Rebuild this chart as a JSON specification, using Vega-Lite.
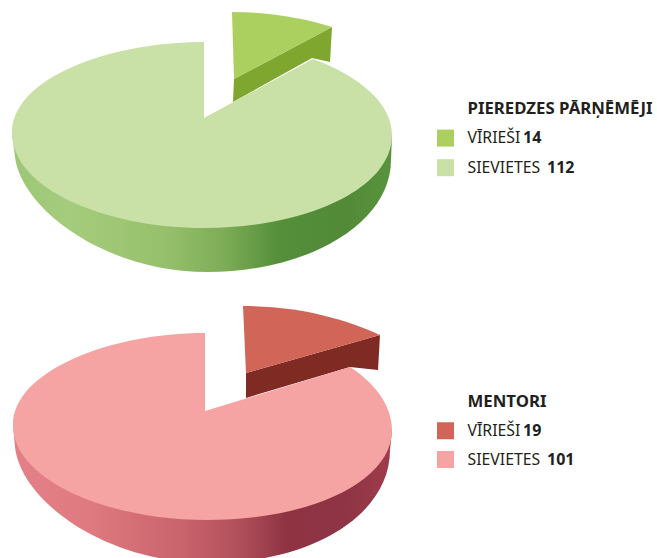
{
"$schema":"https://vega.github.io/schema/vega-lite/v6.json",
"width":657,"height":558,"padding":0,"autosize":{"type":"none"},
"background":"white",
"view":{"stroke":null},
"config":{"view":{"stroke":null}},
"data":{"values":[
{"group":"PIEREDZES PĀRŅĒMĒJI","gender":"VĪRIEŠI","count":14},
{"group":"PIEREDZES PĀRŅĒMĒJI","gender":"SIEVIETES","count":112},
{"group":"MENTORI","gender":"VĪRIEŠI","count":19},
{"group":"MENTORI","gender":"SIEVIETES","count":101}
]},
"resolve":{"scale":{"x":"independent","y":"independent","color":"independent"}},
"layer":[
{"transform":[{"filter":"datum.group==='PIEREDZES PĀRŅĒMĒJI' && datum.gender==='VĪRIEŠI'"}],
 "mark":{"type":"point","filled":true,"opacity":1,"size":4,"fill":"#7fa62f","shape":"M30,-39 L29,-16 L108,-60 L126,-56 L128,-91 Z"},
 "encoding":{"x":{"field":"group","type":"nominal","axis":null,"scale":{"type":"point","range":[204,204]}},"y":{"field":"group","type":"nominal","axis":null,"scale":{"type":"point","range":[118,118]}}}},
{"transform":[{"filter":"datum.group==='PIEREDZES PĀRŅĒMĒJI' && datum.gender==='VĪRIEŠI'"}],
 "mark":{"type":"point","filled":true,"opacity":1,"size":4,"fill":"#acd05f","shape":"M28,-106 C65,-106 100,-100 128,-91 L30,-39 Z"},
 "encoding":{"x":{"field":"group","type":"nominal","axis":null,"scale":{"type":"point","range":[204,204]}},"y":{"field":"group","type":"nominal","axis":null,"scale":{"type":"point","range":[118,118]}}}},
{"transform":[{"filter":"datum.group==='PIEREDZES PĀRŅĒMĒJI' && datum.gender==='SIEVIETES'"}],
 "mark":{"type":"point","filled":true,"opacity":1,"size":4,"fill":{"gradient":"linear","x1":0,"y1":0,"x2":1,"y2":0,"stops":[{"offset":0,"color":"#9cc676"},{"offset":0.15,"color":"#a5cc7c"},{"offset":0.4,"color":"#97c06c"},{"offset":0.55,"color":"#7fae58"},{"offset":0.7,"color":"#558f3a"},{"offset":0.88,"color":"#528a38"},{"offset":1,"color":"#5a933c"}]},"shape":"M-192,15 L-189,39 C-183,90 -100,154 3,154 C105,154 187,105 187,42 L188,17 Z"},
 "encoding":{"x":{"field":"group","type":"nominal","axis":null,"scale":{"type":"point","range":[204,204]}},"y":{"field":"group","type":"nominal","axis":null,"scale":{"type":"point","range":[118,118]}}}},
{"transform":[{"filter":"datum.group==='PIEREDZES PĀRŅĒMĒJI' && datum.gender==='SIEVIETES'"}],
 "mark":{"type":"point","filled":true,"opacity":1,"size":4,"fill":"#c9e0a6","shape":"M0,-76 C-95,-76 -192,-40 -192,15 C-192,70 -100,110 0,110 C100,110 188,72 188,17 C188,-15 155,-42 109,-59 L0,0 Z"},
 "encoding":{"x":{"field":"group","type":"nominal","axis":null,"scale":{"type":"point","range":[204,204]}},"y":{"field":"group","type":"nominal","axis":null,"scale":{"type":"point","range":[118,118]}}}},
{"transform":[{"filter":"datum.group==='MENTORI' && datum.gender==='VĪRIEŠI'"}],
 "mark":{"type":"point","filled":true,"opacity":1,"size":4,"fill":"#7f2a22","shape":"M41,-38 L41,-13 L145,-44 L173,-41 L175,-76 Z"},
 "encoding":{"x":{"field":"group","type":"nominal","axis":null,"scale":{"type":"point","range":[205,205]}},"y":{"field":"group","type":"nominal","axis":null,"scale":{"type":"point","range":[411,411]}}}},
{"transform":[{"filter":"datum.group==='MENTORI' && datum.gender==='VĪRIEŠI'"}],
 "mark":{"type":"point","filled":true,"opacity":1,"size":4,"fill":"#d06558","shape":"M38,-105 C95,-105 140,-92 175,-76 L41,-38 Z"},
 "encoding":{"x":{"field":"group","type":"nominal","axis":null,"scale":{"type":"point","range":[205,205]}},"y":{"field":"group","type":"nominal","axis":null,"scale":{"type":"point","range":[411,411]}}}},
{"transform":[{"filter":"datum.group==='MENTORI' && datum.gender==='SIEVIETES'"}],
 "mark":{"type":"point","filled":true,"opacity":1,"size":4,"fill":{"gradient":"linear","x1":0,"y1":0,"x2":1,"y2":0,"stops":[{"offset":0,"color":"#e48088"},{"offset":0.2,"color":"#df7a80"},{"offset":0.45,"color":"#c9636c"},{"offset":0.6,"color":"#b04f5a"},{"offset":0.72,"color":"#8f3343"},{"offset":0.88,"color":"#8e3444"},{"offset":1,"color":"#a03c4c"}]},"shape":"M-192,14 L-190,36 C-184,90 -100,152 5,152 C105,152 185,105 185,39 L187,19 Z"},
 "encoding":{"x":{"field":"group","type":"nominal","axis":null,"scale":{"type":"point","range":[205,205]}},"y":{"field":"group","type":"nominal","axis":null,"scale":{"type":"point","range":[411,411]}}}},
{"transform":[{"filter":"datum.group==='MENTORI' && datum.gender==='SIEVIETES'"}],
 "mark":{"type":"point","filled":true,"opacity":1,"size":4,"fill":"#f5a3a3","shape":"M0,-78 C-95,-78 -192,-40 -192,14 C-192,68 -100,109 2,109 C103,109 187,72 187,19 C187,-5 170,-28 145,-44 L0,0 Z"},
 "encoding":{"x":{"field":"group","type":"nominal","axis":null,"scale":{"type":"point","range":[205,205]}},"y":{"field":"group","type":"nominal","axis":null,"scale":{"type":"point","range":[411,411]}}}},

{"transform":[{"filter":"datum.group==='PIEREDZES PĀRŅĒMĒJI'"}],
 "mark":{"type":"point","filled":true,"opacity":1,"shape":"square","size":289},
 "encoding":{"x":{"field":"gender","type":"nominal","axis":null,"scale":{"type":"point","padding":0,"domain":["VĪRIEŠI","SIEVIETES"],"range":[445.5,445.5]}},
  "y":{"field":"gender","type":"nominal","axis":null,"scale":{"type":"point","padding":0,"domain":["title","VĪRIEŠI","SIEVIETES"],"range":[108.5,167.7]}},
  "color":{"field":"gender","type":"nominal","legend":null,"scale":{"domain":["VĪRIEŠI","SIEVIETES"],"range":["#acd05f","#c9e0a6"]}}}},
{"transform":[{"filter":"datum.group==='PIEREDZES PĀRŅĒMĒJI'"}],
 "mark":{"type":"text","align":"left","baseline":"middle","font":"Noto Sans","fontSize":15.8,"fill":"#231f20"},
 "encoding":{"x":{"field":"gender","type":"nominal","axis":null,"scale":{"type":"point","padding":0,"domain":["VĪRIEŠI","SIEVIETES"],"range":[467.5,467.5]}},
  "y":{"field":"gender","type":"nominal","axis":null,"scale":{"type":"point","padding":0,"domain":["title","VĪRIEŠI","SIEVIETES"],"range":[108.5,167.7]}},
  "text":{"field":"gender"}}},
{"transform":[{"filter":"datum.group==='PIEREDZES PĀRŅĒMĒJI'"}],
 "mark":{"type":"text","align":"left","baseline":"middle","font":"Noto Sans","fontSize":16,"fontWeight":"bold","fill":"#231f20"},
 "encoding":{"x":{"field":"gender","type":"nominal","axis":null,"scale":{"type":"point","padding":0,"domain":["VĪRIEŠI","SIEVIETES"],"range":[523,547]}},
  "y":{"field":"gender","type":"nominal","axis":null,"scale":{"type":"point","padding":0,"domain":["title","VĪRIEŠI","SIEVIETES"],"range":[108.5,167.7]}},
  "text":{"field":"count","type":"quantitative"}}},
{"transform":[{"filter":"datum.group==='PIEREDZES PĀRŅĒMĒJI' && datum.gender==='VĪRIEŠI'"}],
 "mark":{"type":"text","align":"left","baseline":"middle","font":"Noto Sans","fontSize":16.8,"fontWeight":"bold","fill":"#231f20"},
 "encoding":{"x":{"field":"gender","type":"nominal","axis":null,"scale":{"type":"point","padding":0,"domain":["VĪRIEŠI","SIEVIETES"],"range":[467.5,467.5]}},
  "y":{"datum":"title","type":"nominal","axis":null,"scale":{"type":"point","padding":0,"domain":["title","VĪRIEŠI","SIEVIETES"],"range":[108.5,167.7]}},
  "text":{"field":"group"}}},

{"transform":[{"filter":"datum.group==='MENTORI'"}],
 "mark":{"type":"point","filled":true,"opacity":1,"shape":"square","size":289},
 "encoding":{"x":{"field":"gender","type":"nominal","axis":null,"scale":{"type":"point","padding":0,"domain":["VĪRIEŠI","SIEVIETES"],"range":[445.5,445.5]}},
  "y":{"field":"gender","type":"nominal","axis":null,"scale":{"type":"point","padding":0,"domain":["title","VĪRIEŠI","SIEVIETES"],"range":[402,459.5]}},
  "color":{"field":"gender","type":"nominal","legend":null,"scale":{"domain":["VĪRIEŠI","SIEVIETES"],"range":["#d06558","#f5a3a3"]}}}},
{"transform":[{"filter":"datum.group==='MENTORI'"}],
 "mark":{"type":"text","align":"left","baseline":"middle","font":"Noto Sans","fontSize":15.8,"fill":"#231f20"},
 "encoding":{"x":{"field":"gender","type":"nominal","axis":null,"scale":{"type":"point","padding":0,"domain":["VĪRIEŠI","SIEVIETES"],"range":[467.5,467.5]}},
  "y":{"field":"gender","type":"nominal","axis":null,"scale":{"type":"point","padding":0,"domain":["title","VĪRIEŠI","SIEVIETES"],"range":[402,459.5]}},
  "text":{"field":"gender"}}},
{"transform":[{"filter":"datum.group==='MENTORI'"}],
 "mark":{"type":"text","align":"left","baseline":"middle","font":"Noto Sans","fontSize":16,"fontWeight":"bold","fill":"#231f20"},
 "encoding":{"x":{"field":"gender","type":"nominal","axis":null,"scale":{"type":"point","padding":0,"domain":["VĪRIEŠI","SIEVIETES"],"range":[523,547]}},
  "y":{"field":"gender","type":"nominal","axis":null,"scale":{"type":"point","padding":0,"domain":["title","VĪRIEŠI","SIEVIETES"],"range":[402,459.5]}},
  "text":{"field":"count","type":"quantitative"}}},
{"transform":[{"filter":"datum.group==='MENTORI' && datum.gender==='VĪRIEŠI'"}],
 "mark":{"type":"text","align":"left","baseline":"middle","font":"Noto Sans","fontSize":16.8,"fontWeight":"bold","fill":"#231f20"},
 "encoding":{"x":{"field":"gender","type":"nominal","axis":null,"scale":{"type":"point","padding":0,"domain":["VĪRIEŠI","SIEVIETES"],"range":[467.5,467.5]}},
  "y":{"datum":"title","type":"nominal","axis":null,"scale":{"type":"point","padding":0,"domain":["title","VĪRIEŠI","SIEVIETES"],"range":[402,459.5]}},
  "text":{"field":"group"}}}
]
}
